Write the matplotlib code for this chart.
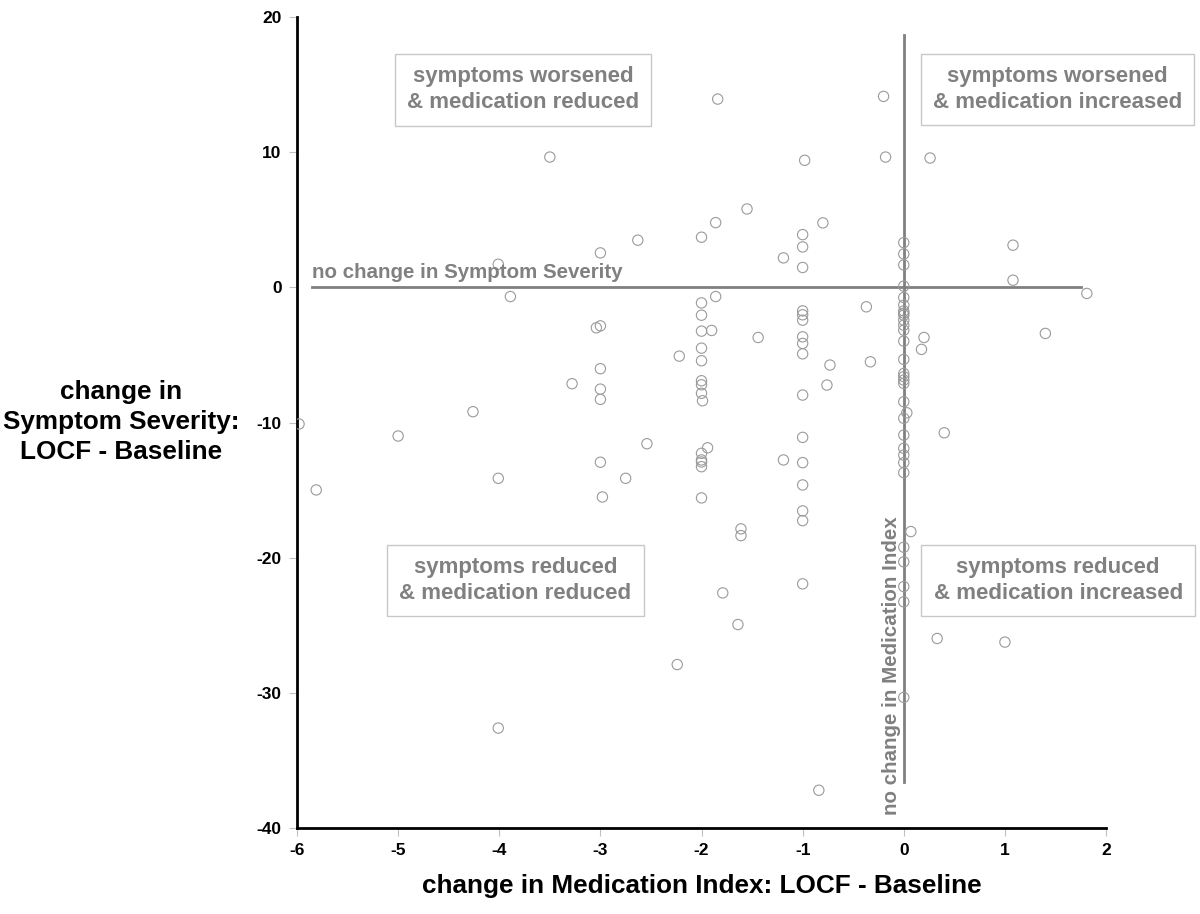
import numpy as np
import matplotlib.pyplot as plt

plt.rcParams['font.family'] = ['Liberation Sans', 'DejaVu Sans']
plt.rcParams['font.weight'] = 'bold'

# change in Medication Index (x) and change in Symptom Severity (y)
med_change = [
    -3.50, -2.63, -3.00, -4.01, -3.89, -2.00, -1.84, -0.20, -0.98, -0.18,
    0.26, -1.55, -1.86, -0.80, -1.00, -1.00, -1.19, -1.00, 0.00, 0.00,
    0.00, 0.00, 0.00, 1.08, 1.08, 1.81, -1.86, -2.00, -3.04, -3.00,
    -2.22, -3.00, -3.28, -3.00, -3.00, -4.26, -5.98, -5.00, -2.54, -3.00,
    -4.01, -2.75, -2.98, -5.81, -2.00, -2.00, -1.90, -2.00, -2.00, -2.00,
    -2.00, -2.00, -1.99, -2.00, -2.00, -2.00, -2.00, -1.94, -2.00, -1.44,
    -1.00, -1.00, -1.00, -1.00, -1.00, -1.00, -0.73, -0.76, -1.00, -0.37,
    -0.33, -1.00, -1.19, -1.00, -1.00, -1.00, -1.00, -1.61, -1.61, 0.07,
    0.00, 0.00, 0.00, 0.00, 0.00, 0.00, 0.00, 0.20, 0.175, 0.00,
    0.00, 0.00, 0.00, 0.00, 0.03, 0.00, 0.00, 0.00, 0.00, 0.00,
    0.00, 0.40, 1.40, 0.00, 0.00, 0.00, 0.00, -1.00, -1.79, -1.64,
    -2.24, 0.33, 1.00, 0.00, -0.84, -4.01, 0.00, 0.00,
]
symptom_change = [
    9.65, 3.50, 2.56, 1.72, -0.67, 3.72, 13.94, 14.14, 9.41, 9.65,
    9.58, 5.81, 4.80, 4.78, 3.91, 3.00, 2.19, 1.48, 3.32, 2.48,
    1.67, 0.10, -0.74, 3.13, 0.54, -0.44, -0.67, -1.14, -2.98, -2.84,
    -5.08, -6.01, -7.12, -7.52, -8.28, -9.19, -10.10, -10.99, -11.56, -12.93,
    -14.12, -14.12, -15.50, -14.98, -2.05, -3.23, -3.18, -4.49, -5.42, -6.90,
    -7.20, -7.83, -8.38, -12.27, -12.76, -12.91, -13.26, -11.86, -15.57, -3.70,
    -1.73, -2.02, -2.42, -3.65, -4.14, -4.91, -5.74, -7.22, -7.96, -1.43,
    -5.50, -11.09, -12.76, -12.96, -14.61, -16.53, -17.25, -17.86, -18.36, -18.06,
    -1.31, -1.73, -2.05, -2.42, -2.79, -3.16, -3.97, -3.70, -4.58, -5.32,
    -6.60, -6.85, -7.10, -8.45, -9.27, -9.68, -10.92, -11.90, -12.40, -12.96,
    -13.70, -10.75, -3.40, -19.22, -20.30, -22.13, -23.26, -21.93, -22.60, -24.94,
    -27.90, -25.97, -26.24, -30.33, -37.20, -32.60, -6.36, -1.90,
]

x_ticks = [-6, -5, -4, -3, -2, -1, 0, 1, 2]
y_ticks = [20, 10, 0, -10, -20, -30, -40]

quadrant_labels = [
    "symptoms worsened\n& medication reduced",
    "symptoms worsened\n& medication increased",
    "symptoms reduced\n& medication reduced",
    "symptoms reduced\n& medication increased",
]
quadrant_pos = [(-3.765, 14.62), (1.52, 14.64), (-3.84, -21.7), (1.527, -21.7)]

gray = '#808080'

fig = plt.figure(figsize=(12, 9.14), dpi=100)
ax = fig.add_axes([0.2475, 0.094, 0.6742, 0.8872])

ax.scatter(med_change, symptom_change, s=55, facecolors='none',
           edgecolors='#9a9a9a', linewidths=0.8, zorder=3)

# reference lines
ax.plot([-5.85, 1.75], [0, 0], color=gray, lw=2, zorder=2)
ax.plot([0, 0], [18.65, -36.6], color=gray, lw=2, zorder=2)
ax.text(-5.85, 0.4, "no change in Symptom Severity", color=gray,
        fontsize=14.8, fontweight='bold', ha='left', va='bottom')
ax.text(-0.03, -39.0, "no change in Medication Index", color=gray,
        fontsize=14.8, fontweight='bold', ha='right', va='bottom',
        rotation=90)

for label, (qx, qy) in zip(quadrant_labels, quadrant_pos):
    ax.text(qx, qy, label, color=gray, fontsize=16, fontweight='bold',
            ha='center', va='center', linespacing=1.3,
            bbox=dict(boxstyle='square,pad=0.55', facecolor='white',
                      edgecolor='#c8c8c8', linewidth=1))

ax.set_xlim(-6, 2)
ax.set_ylim(-40, 20)
ax.set_xticks(x_ticks)
ax.set_yticks(y_ticks)
ax.set_xticklabels([str(v) for v in x_ticks])
ax.set_yticklabels([str(v) for v in y_ticks])
ax.tick_params(axis='both', direction='out', length=6, color='#c0c0c0',
               labelsize=12.5, pad=5)
for lab in ax.get_xticklabels() + ax.get_yticklabels():
    lab.set_fontweight('bold')

for side in ['top', 'right']:
    ax.spines[side].set_visible(False)
for side in ['left', 'bottom']:
    ax.spines[side].set_linewidth(2)
    ax.spines[side].set_color('black')

ax.set_xlabel("change in Medication Index: LOCF - Baseline",
              fontsize=18.8, fontweight='bold', labelpad=11)
fig.text(0.101, 0.538, "change in\nSymptom Severity:\nLOCF - Baseline",
         fontsize=18.8, fontweight='bold', ha='center', va='center',
         linespacing=1.32)

fig.savefig('out.png', dpi=100)
